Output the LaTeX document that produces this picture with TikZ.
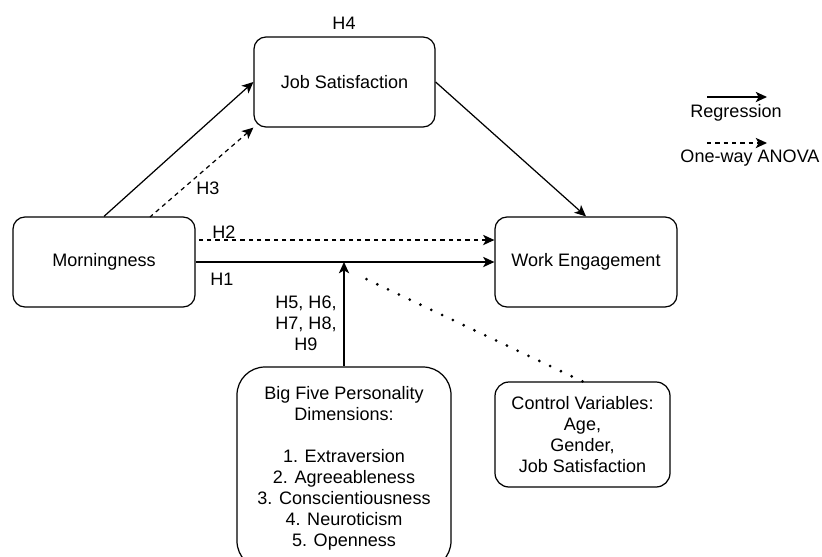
\documentclass[tikz,border=0pt]{standalone}
\usepackage{fontspec}
\setmainfont{Liberation Sans}
\usepackage{xcolor}
\usepackage{tikz}
\usetikzlibrary{arrows.meta}

\begin{document}
\begin{tikzpicture}[x=0.03cm,y=-0.03cm,line width=1.05pt,
	>={Stealth[length=0.34cm,width=0.31cm,inset=0.09cm]},
	every node/.style={font=\fontsize{15.4}{17.9}\selectfont},
	box/.style={draw,rounded corners=0.36cm,align=center,line width=1.05pt},
	anova/.style={dash pattern=on 0.13cm off 0.12cm},
	ctrl/.style={line width=2.6pt,line cap=round,dash pattern=on 0pt off 10.2pt}]
%\begin{scope}[yscale=1,xscale=-1]
	\useasboundingbox (0,0) rectangle (822,556);
	\node[box,minimum width=5.43cm,minimum height=2.7cm] at (344.5,82) (JS) {Job Satisfaction};
	\node[box,minimum width=5.46cm,minimum height=2.7cm] at (104,262) (M) {Morningness};
	\node[box,minimum width=5.46cm,minimum height=2.7cm] at (586,262) (WE) {Work Engagement};
	\node[box,rounded corners=0.84cm,minimum width=6.42cm,minimum height=6.06cm] at (344,468) (B5)
		{Big Five Personality\\Dimensions:\\[0.63cm]1. Extraversion\\2. Agreeableness\\3. Conscientiousness\\4. Neuroticism\\5. Openness};
	\node[box,rounded corners=0.42cm,minimum width=5.25cm,minimum height=3.15cm] at (582.5,434.5) (CV)
		{Control Variables:\\Age,\\Gender,\\Job Satisfaction};
	\node at (344,23) (h4) {H4};
	\node at (208,188) (h3) {H3};
	\node at (224,232) (h2) {H2};
	\node at (222,279) (h1) {H1};
	\node[align=center] at (306,323) (h5) {H5, H6,\\H7, H8,\\H9};
	\coordinate (mod) at (344,262);
	\coordinate (dotend) at (364,278);
	\draw [<-] (JS.west) -- (M.north);
	\draw [<-,anova] (JS.south west) -- (150,217);
	\draw [<-] (WE.north) -- (JS.east);
	\draw [<-,anova] (WE.west |- 0,240) -- (M.east |- 0,240);
	\draw [<-] (WE.west) -- (M.east);
	\draw [<-] (mod) -- (B5.north);
	\draw [ctrl] (CV.north) -- (dotend);
	% legend
	\coordinate (r1) at (707,97);
	\coordinate (r2) at (767,97);
	\coordinate (a1) at (707,143);
	\coordinate (a2) at (767,143);
	\draw [->] (r1) -- (r2);
	\node at (736,113) (reg) {Regression};
	\draw [->,anova] (a1) -- (a2);
	\node at (750,158) (ano) {One-way ANOVA};
%\end{scope}
\end{tikzpicture}
\end{document}
